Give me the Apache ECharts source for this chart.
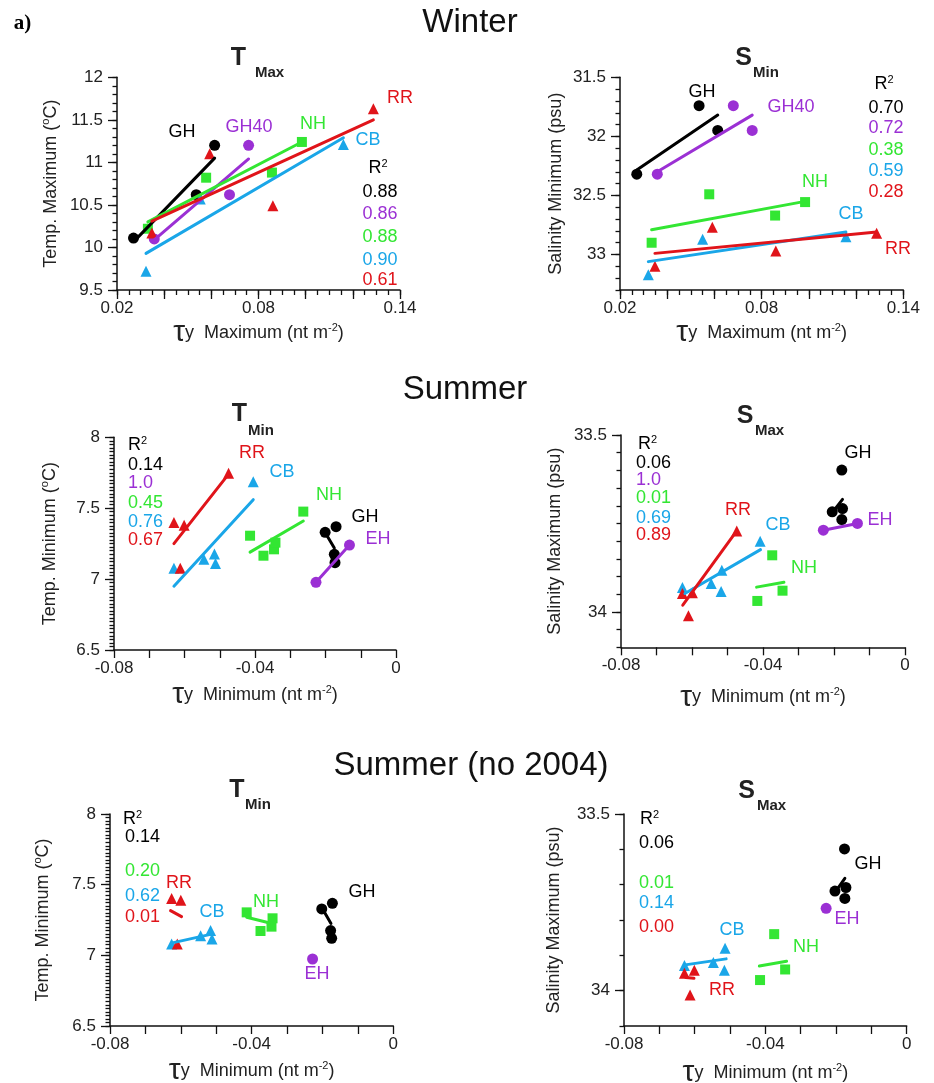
<!DOCTYPE html>
<html>
<head>
<meta charset="utf-8">
<script src="https://cdn.jsdelivr.net/npm/echarts@6/dist/echarts.min.js"></script>
<style>
html,body{margin:0;padding:0;background:#fff;}
#chart{width:934px;height:1083px;}
</style>
</head>
<body>
<div id="chart"></div>
<script>
// ---- data ----
// winter, T max vs tau_y max
const wT_pts = {
  GH:   [[0.027,10.11],[0.0536,10.62],[0.0614,11.2]],
  GH40: [[0.0358,10.1],[0.0677,10.62],[0.0758,11.2]],
  NH:   [[0.0331,10.22],[0.0578,10.82],[0.0857,10.88],[0.0984,11.24]],
  CB:   [[0.0323,9.72],[0.0553,10.57],[0.116,11.21]],
  RR:   [[0.0348,10.17],[0.0593,11.1],[0.0861,10.49],[0.1287,11.63]]
};
const wT_fit = {
  GH:   [[0.0275,10.08],[0.0614,11.05]],
  GH40: [[0.0358,10.09],[0.0758,11.04]],
  NH:   [[0.0331,10.30],[0.0984,11.24]],
  CB:   [[0.0323,9.93],[0.116,11.29]],
  RR:   [[0.0348,10.31],[0.1287,11.5]]
};
const wT_r2 = ['0.88','0.86','0.88','0.90','0.61'];

// winter, S min
const wS_pts = {
  GH:   [[0.0271,32.32],[0.0535,31.74],[0.0614,31.95]],
  GH40: [[0.0358,32.32],[0.068,31.74],[0.076,31.95]],
  NH:   [[0.0334,32.90],[0.0578,32.49],[0.0857,32.67],[0.0984,32.556]],
  CB:   [[0.032,33.17],[0.055,32.87],[0.1157,32.85]],
  RR:   [[0.0348,33.10],[0.0591,32.77],[0.086,32.97],[0.1287,32.82]]
};
const wS_fit = {
  GH:   [[0.0271,32.285],[0.0614,31.82]],
  GH40: [[0.0358,32.30],[0.076,31.82]],
  NH:   [[0.0334,32.79],[0.0984,32.55]],
  CB:   [[0.032,33.06],[0.1157,32.81]],
  RR:   [[0.0348,32.99],[0.1287,32.81]]
};
const wS_r2 = ['0.70','0.72','0.38','0.59','0.28'];

// summer, T min vs tau_y min
const sT_pts = {
  GH: [[-0.0201,7.33],[-0.017,7.37],[-0.0175,7.175],[-0.0173,7.116]],
  EH: [[-0.0227,6.977],[-0.0132,7.24]],
  NH: [[-0.0414,7.306],[-0.0376,7.165],[-0.0346,7.21],[-0.0342,7.257],[-0.0263,7.476]],
  CB: [[-0.063,7.076],[-0.0545,7.14],[-0.0515,7.177],[-0.0512,7.11],[-0.0405,7.687]],
  RR: [[-0.063,7.40],[-0.0601,7.38],[-0.0612,7.076],[-0.0475,7.746]]
};
const sT_fit = {
  GH: [[-0.0199,7.32],[-0.0175,7.22]],
  EH: [[-0.0227,6.977],[-0.0132,7.24]],
  NH: [[-0.0414,7.19],[-0.0263,7.41]],
  CB: [[-0.063,6.95],[-0.0405,7.56]],
  RR: [[-0.063,7.25],[-0.0475,7.74]]
};
const sT_r2 = ['0.14','1.0','0.45','0.76','0.67'];

// summer, S max
const sS_pts = {
  GH: [[-0.0178,33.599],[-0.0205,33.717],[-0.0176,33.708],[-0.0178,33.739]],
  EH: [[-0.023,33.769],[-0.0134,33.75]],
  NH: [[-0.0374,33.84],[-0.0416,33.969],[-0.0345,33.94]],
  CB: [[-0.0627,33.931],[-0.0546,33.92],[-0.0518,33.942],[-0.0516,33.882],[-0.0408,33.80]],
  RR: [[-0.0627,33.948],[-0.0599,33.946],[-0.061,34.011],[-0.0474,33.771]]
};
const sS_fit = {
  GH: [[-0.0198,33.71],[-0.0176,33.682]],
  EH: [[-0.023,33.769],[-0.0134,33.75]],
  NH: [[-0.0418,33.93],[-0.0341,33.916]],
  CB: [[-0.062,33.948],[-0.0407,33.824]],
  RR: [[-0.0626,33.981],[-0.0474,33.771]]
};
const sS_r2 = ['0.06','1.0','0.01','0.69','0.89'];

// summer without 2004, T min
const nT_pts = {
  GH: [[-0.0202,7.328],[-0.0172,7.368],[-0.0177,7.175],[-0.0174,7.12]],
  EH: [[-0.0228,6.974]],
  NH: [[-0.0414,7.304],[-0.0375,7.172],[-0.0344,7.203],[-0.0341,7.262]],
  CB: [[-0.0626,7.08],[-0.0544,7.139],[-0.0516,7.175],[-0.0512,7.116]],
  RR: [[-0.0626,7.403],[-0.06,7.39],[-0.061,7.08]]
};
const nT_fit = {
  GH: [[-0.0198,7.32],[-0.0176,7.226]],
  NH: [[-0.0414,7.27],[-0.0343,7.225]],
  CB: [[-0.0621,7.09],[-0.0513,7.15]],
  RR: [[-0.0629,7.316],[-0.0598,7.274]]
};
const nT_r2 = ['0.14','','0.20','0.62','0.01'];

// summer without 2004, S max
const nS_pts = {
  GH: [[-0.0176,33.599],[-0.0203,33.718],[-0.0172,33.708],[-0.0175,33.739]],
  EH: [[-0.0228,33.767]],
  NH: [[-0.0375,33.84],[-0.0415,33.97],[-0.0344,33.94]],
  CB: [[-0.0629,33.929],[-0.0547,33.92],[-0.0514,33.88],[-0.0516,33.942]],
  RR: [[-0.0629,33.951],[-0.0601,33.942],[-0.0613,34.012]]
};
const nS_fit = {
  GH: [[-0.0198,33.715],[-0.0175,33.682]],
  NH: [[-0.0417,33.93],[-0.034,33.917]],
  CB: [[-0.0627,33.927],[-0.0511,33.91]],
  RR: [[-0.0625,33.963],[-0.0602,33.965]]
};
const nS_r2 = ['0.06','','0.01','0.14','0.00'];

// station order of the R2 columns
const winterStations = ['GH','GH40','NH','CB','RR'];
const summerStations = ['GH','EH','NH','CB','RR'];

// tick values
const xLabW = [0.02, 0.08, 0.14];
const xMajW = [0.02, 0.04, 0.06, 0.08, 0.10, 0.12, 0.14];
const xLabS = [-0.08, -0.04, 0];
const yLab_wT = [9.5, 10, 10.5, 11, 11.5, 12];
const yLab_wS = [31.5, 32, 32.5, 33];
const yLab_sT = [6.5, 7, 7.5, 8];
const yLab_sS = [33.5, 34];

// ---- styling ----
const FONT = 'Liberation Sans, Arial, Helvetica, sans-serif';
const COLORS = {GH:'#000000', GH40:'#9b30d4', EH:'#9b30d4', NH:'#33e633', CB:'#1aa6e8', RR:'#e0141a'};
const SYMBOLS = {GH:'circle', GH40:'circle', EH:'circle', NH:'rect', CB:'triangle', RR:'triangle'};
const SYMSIZE = {circle:11, rect:10, triangle:11};

const nameRich = {
  t: {fontSize: 30, fontFamily: FONT, color: '#222'},
  y: {fontSize: 18, fontFamily: FONT, color: '#222'},
  s: {fontSize: 11, fontFamily: FONT, color: '#222', padding: [0, 0, 10, 0]},
  o: {fontSize: 11, fontFamily: FONT, color: '#222', padding: [0, 0, 10, 0]}
};
const xNameMax = '{t|τ}{y|y}  Maximum (nt m{s|-2})';
const xNameMin = '{t|τ}{y|y}  Minimum (nt m{s|-2})';

const panels = [
  {grid:{left:117, top:77.3, width:283, height:212.7}, pts:wT_pts, fit:wT_fit, r2:wT_r2, st:winterStations,
   x:{min:0.02, max:0.14, step:0.005, labels:xLabW, majors:xMajW, name:xNameMax, gap:43},
   y:{min:9.5, max:12, step:0.1, labels:yLab_wT, inverse:false, name:'Temp. Maximum ({o|o}C)', gap:66}},
  {grid:{left:620, top:77.3, width:283.3, height:212.7}, pts:wS_pts, fit:wS_fit, r2:wS_r2, st:winterStations,
   x:{min:0.02, max:0.14, step:0.005, labels:xLabW, majors:xMajW, name:xNameMax, gap:43},
   y:{min:31.5, max:33.3, step:0.1, labels:yLab_wS, inverse:true, name:'Salinity Minimum (psu)', gap:64}},
  {grid:{left:114, top:437.3, width:282, height:212.7}, pts:sT_pts, fit:sT_fit, r2:sT_r2, st:summerStations,
   x:{min:-0.08, max:0, step:0.01, labels:xLabS, majors:null, name:xNameMin, gap:45},
   y:{min:6.5, max:8, step:0.025, labels:yLab_sT, inverse:false, name:'Temp. Minimum ({o|o}C)', gap:64}},
  {grid:{left:621, top:435, width:284, height:212.3}, pts:sS_pts, fit:sS_fit, r2:sS_r2, st:summerStations,
   x:{min:-0.08, max:0, step:0.01, labels:xLabS, majors:null, name:xNameMin, gap:50},
   y:{min:33.5, max:34.1, step:0.05, labels:yLab_sS, inverse:true, name:'Salinity Maximum (psu)', gap:66}},
  {grid:{left:110, top:814, width:283.3, height:212}, pts:nT_pts, fit:nT_fit, r2:nT_r2, st:summerStations,
   x:{min:-0.08, max:0, step:0.01, labels:xLabS, majors:null, name:xNameMin, gap:45},
   y:{min:6.5, max:8, step:0.025, labels:yLab_sT, inverse:false, name:'Temp. Minimum ({o|o}C)', gap:67}},
  {grid:{left:624, top:814, width:282.7, height:212}, pts:nS_pts, fit:nS_fit, r2:nS_r2, st:summerStations,
   x:{min:-0.08, max:0, step:0.01, labels:xLabS, majors:null, name:xNameMin, gap:47},
   y:{min:33.5, max:34.1, step:0.1, labels:yLab_sS, inverse:true, name:'Salinity Maximum (psu)', gap:70}}
];

// annotation placement (pixels)
const titles = [
  {text:'Winter', x:470, y:23},
  {text:'Summer', x:465, y:390},
  {text:'Summer (no 2004)', x:471, y:766}
];
const panelTitles = [
  {big:'T', bx:238.5, by:58.5, small:'Max', sx:255, sy:72.5},
  {big:'S', bx:743.5, by:58.5, small:'Min', sx:753, sy:72.5},
  {big:'T', bx:239.5, by:414.5, small:'Min', sx:248, sy:431},
  {big:'S', bx:745, by:416, small:'Max', sx:755, sy:431},
  {big:'T', bx:237, by:790, small:'Min', sx:245, sy:805},
  {big:'S', bx:746.5, by:791, small:'Max', sx:757, sy:806}
];
const labelPos = [
  {GH:[182,132], GH40:[249,127], NH:[313,124], CB:[368,140], RR:[400,98]},
  {GH:[702,92], GH40:[791,107], NH:[815,182], CB:[851,214], RR:[898,249]},
  {RR:[252,453], CB:[282,472], NH:[329,495], GH:[365,517], EH:[378,539]},
  {GH:[858,453], EH:[880,520], RR:[738,510], CB:[778,525], NH:[804,568]},
  {RR:[179,883], CB:[212,912], NH:[266,902], GH:[362,892], EH:[317,974]},
  {GH:[868,864], EH:[847,919], CB:[732,930], NH:[806,947], RR:[722,990]}
];
const r2Pos = [
  {align:'center', head:[378,168], x:380, ys:[191.7,214.3,237.3,260,280]},
  {align:'center', head:[884,84], x:886, ys:[108.3,128.3,150,170.7,191.7]},
  {align:'left', head:[128,445], x:128, ys:[465,483.3,502.7,521.7,540]},
  {align:'left', head:[638,444], x:636, ys:[463,480.3,498.3,517.7,535]},
  {align:'left', head:[123,819], x:125, ys:[837.3,null,870.7,896,917.3]},
  {align:'left', head:[640,819], x:639, ys:[843,null,882.7,903.3,926.7]}
];

// ---- build option ----
const chart = echarts.init(document.getElementById('chart'));

function isIn(list, v) {
  return list.some(function (l) { return Math.abs(l - v) < 1e-9; });
}
function fmt(v) { return String(+(+v).toFixed(4)); }

const grids = [], xAxes = [], yAxes = [], series = [], graphics = [];
const axisLine = {show: true, onZero: false, lineStyle: {color: '#111', width: 1.5}};
const tickStyle = {color: '#111', width: 1.3};
const labelStyle = {fontSize: 17, color: '#222', fontFamily: FONT};

panels.forEach(function (p, i) {
  grids.push(Object.assign({outerBoundsMode: 'none', containLabel: false}, p.grid));

  const xi = xAxes.length;
  xAxes.push({
    type: 'value', gridIndex: i, position: 'bottom', min: p.x.min, max: p.x.max, interval: p.x.step,
    axisLine: axisLine, splitLine: {show: false},
    axisTick: {show: true, inside: false, length: p.x.majors ? 5 : 8, lineStyle: tickStyle},
    axisLabel: Object.assign({margin: 10, formatter: function (v) { return isIn(p.x.labels, v) ? fmt(v) : ''; }}, labelStyle),
    name: p.x.name, nameLocation: 'middle', nameGap: p.x.gap,
    nameTextStyle: {fontSize: 18, color: '#222', fontFamily: FONT, verticalAlign: 'middle', rich: nameRich}
  });
  if (p.x.majors) {
    xAxes.push({
      type: 'value', gridIndex: i, position: 'bottom', min: p.x.min, max: p.x.max,
      axisLine: {show: false, onZero: false}, splitLine: {show: false}, axisLabel: {show: false},
      axisTick: {show: true, length: 9, customValues: p.x.majors, lineStyle: tickStyle}
    });
  }

  const yi = yAxes.length;
  yAxes.push({
    type: 'value', gridIndex: i, position: 'left', min: p.y.min, max: p.y.max, interval: p.y.step, inverse: p.y.inverse,
    axisLine: axisLine, splitLine: {show: false},
    axisTick: {show: true, inside: false, length: 4.5, lineStyle: tickStyle},
    axisLabel: Object.assign({margin: 14, formatter: function (v) { return isIn(p.y.labels, v) ? fmt(v) : ''; }}, labelStyle),
    name: p.y.name, nameLocation: 'middle', nameGap: p.y.gap, nameRotate: 90,
    nameTextStyle: {fontSize: 18, color: '#222', fontFamily: FONT, verticalAlign: 'middle', rich: nameRich}
  });
  yAxes.push({
    type: 'value', gridIndex: i, position: 'left', min: p.y.min, max: p.y.max, inverse: p.y.inverse,
    axisLine: {show: false, onZero: false}, splitLine: {show: false}, axisLabel: {show: false},
    axisTick: {show: true, length: 9, customValues: p.y.labels, lineStyle: tickStyle}
  });

  Object.keys(p.pts).forEach(function (k) {
    const sym = SYMBOLS[k];
    series.push({
      type: 'scatter', xAxisIndex: xi, yAxisIndex: yi, data: p.pts[k],
      symbol: sym, symbolSize: SYMSIZE[sym], itemStyle: {color: COLORS[k], opacity: 1},
      silent: true, z: 3
    });
  });
  Object.keys(p.fit).forEach(function (k) {
    series.push({
      type: 'line', xAxisIndex: xi, yAxisIndex: yi, data: p.fit[k],
      showSymbol: false, symbol: 'none', lineStyle: {color: COLORS[k], width: 3, cap: 'round'},
      silent: true, z: 4, animation: false
    });
  });

  // station labels
  Object.keys(labelPos[i]).forEach(function (k) {
    const lp = labelPos[i][k];
    graphics.push({type: 'text', x: lp[0], y: lp[1], silent: true,
      style: {text: k, fill: COLORS[k], font: '18px ' + FONT, align: 'center', verticalAlign: 'middle',
              textAlign: 'center', textVerticalAlign: 'middle'}});
  });

  // R2 column
  const rp = r2Pos[i];
  graphics.push({type: 'text', x: rp.head[0], y: rp.head[1], silent: true,
    style: {text: '{r|R}{s|2}', align: rp.align, verticalAlign: 'middle', textAlign: rp.align, textVerticalAlign: 'middle',
      rich: {r: {fontSize: 18, fontFamily: FONT, color: '#222'},
             s: {fontSize: 11, fontFamily: FONT, color: '#222', padding: [0, 0, 9, 0]}}}});
  p.r2.forEach(function (val, j) {
    if (!val) return;
    graphics.push({type: 'text', x: rp.x, y: rp.ys[j], silent: true,
      style: {text: val, fill: COLORS[p.st[j]], font: '18px ' + FONT, align: rp.align, verticalAlign: 'middle',
              textAlign: rp.align, textVerticalAlign: 'middle'}});
  });

  // panel title
  const pt = panelTitles[i];
  graphics.push({type: 'text', x: pt.bx, y: pt.by, silent: true,
    style: {text: pt.big, fill: '#222', font: 'bold 25px ' + FONT, align: 'center', verticalAlign: 'middle',
            textAlign: 'center', textVerticalAlign: 'middle'}});
  graphics.push({type: 'text', x: pt.sx, y: pt.sy, silent: true,
    style: {text: pt.small, fill: '#222', font: 'bold 15px ' + FONT, align: 'left', verticalAlign: 'middle',
            textAlign: 'left', textVerticalAlign: 'middle'}});
});

titles.forEach(function (t) {
  graphics.push({type: 'text', x: t.x, y: t.y, silent: true,
    style: {text: t.text, fill: '#111', font: '33px ' + FONT, align: 'center', verticalAlign: 'middle',
            textAlign: 'center', textVerticalAlign: 'middle'}});
});
graphics.push({type: 'text', x: 22.5, y: 24, silent: true,
  style: {text: 'a)', fill: '#000', font: 'bold 21px Liberation Serif, Times New Roman, serif', align: 'center',
          verticalAlign: 'middle', textAlign: 'center', textVerticalAlign: 'middle'}});

chart.setOption({
  animation: false,
  backgroundColor: '#ffffff',
  grid: grids,
  xAxis: xAxes,
  yAxis: yAxes,
  series: series,
  graphic: graphics
});
</script>
</body>
</html>
